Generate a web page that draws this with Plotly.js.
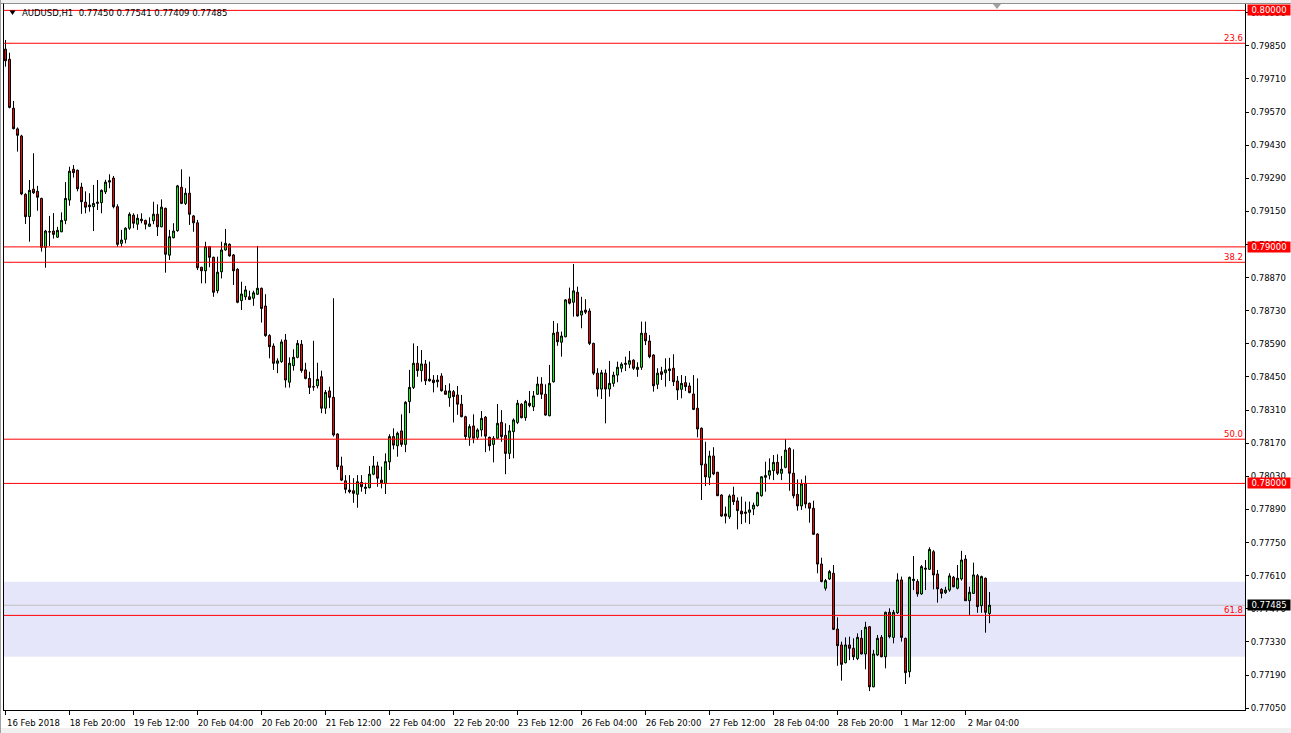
<!DOCTYPE html>
<html><head><meta charset="utf-8">
<script src="https://cdn.plot.ly/plotly-3.0.1.min.js"></script>
<style>html,body{margin:0;padding:0;background:#fff;overflow:hidden}#chart{width:1291px;height:733px}</style>
</head><body><div id="chart"></div>
<script>
// AUDUSD H1 candles (one per hour, oldest first)
const openP = [
0.79836,0.79793,0.79586,0.79499,0.79469,0.79222,0.79128,0.79244,0.79235,0.79205,
0.78998,0.79063,0.79067,0.79041,0.79064,0.79112,0.79198,0.79328,0.79324,0.79253,
0.79189,0.79177,0.79170,0.79184,0.79187,0.79233,0.79274,0.79291,0.79170,0.79015,
0.79032,0.79079,0.79134,0.79096,0.79117,0.79112,0.79087,0.79111,0.79138,0.79085,
0.79163,0.78965,0.79039,0.79069,0.79252,0.79184,0.79227,0.79131,0.79102,0.78914,
0.78899,0.79001,0.78956,0.78815,0.78895,0.78987,0.79011,0.78966,0.78905,0.78773,
0.78789,0.78789,0.78783,0.78800,0.78825,0.78750,0.78625,0.78581,0.78508,0.78515,
0.78606,0.78428,0.78498,0.78533,0.78588,0.78480,0.78444,0.78409,0.78413,0.78451,
0.78318,0.78391,0.78364,0.78209,0.78074,0.78011,0.77972,0.77969,0.77954,0.78004,
0.77979,0.77982,0.78039,0.78074,0.78014,0.78000,0.78091,0.78198,0.78159,0.78222,
0.78165,0.78346,0.78406,0.78508,0.78477,0.78505,0.78441,0.78437,0.78430,0.78454,
0.78391,0.78362,0.78388,0.78374,0.78335,0.78282,0.78195,0.78243,0.78195,0.78226,
0.78280,0.78195,0.78165,0.78191,0.78258,0.78203,0.78127,0.78219,0.78258,0.78335,
0.78278,0.78339,0.78324,0.78377,0.78420,0.78377,0.78286,0.78430,0.78639,0.78597,
0.78620,0.78780,0.78766,0.78808,0.78712,0.78733,0.78729,0.78592,0.78466,0.78399,
0.78466,0.78399,0.78423,0.78458,0.78487,0.78508,0.78504,0.78521,0.78482,0.78491,
0.78635,0.78602,0.78543,0.78419,0.78472,0.78468,0.78477,0.78487,0.78433,0.78398,
0.78426,0.78412,0.78378,0.78318,0.78233,0.78082,0.78026,0.78116,0.78047,0.77951,
0.77871,0.77859,0.77951,0.77926,0.77883,0.77879,0.77878,0.77892,0.77906,0.77948,
0.78026,0.78035,0.78054,0.78089,0.78043,0.78068,0.78148,0.78043,0.77954,0.77905,
0.78000,0.77916,0.77895,0.77786,0.77659,0.77557,0.77596,0.77620,0.77384,0.77317,
0.77242,0.77317,0.77303,0.77260,0.77345,0.77279,0.77394,0.77140,0.77275,0.77349,
0.77267,0.77455,0.77349,0.77453,0.77592,0.77345,0.77204,0.77589,0.77585,0.77533,
0.77637,0.77637,0.77711,0.77617,0.77552,0.77538,0.77549,0.77603,0.77557,0.77596,
0.77680,0.77504,0.77535,0.77610,0.77483,0.77599,0.77450];
const highP = [
0.79875,0.79821,0.79617,0.79505,0.79474,0.79227,0.79283,0.79396,0.79258,0.79208,
0.79072,0.79131,0.79143,0.79085,0.79146,0.79274,0.79339,0.79346,0.79327,0.79271,
0.79235,0.79227,0.79262,0.79283,0.79243,0.79284,0.79307,0.79300,0.79180,0.79072,
0.79083,0.79146,0.79142,0.79138,0.79142,0.79115,0.79125,0.79191,0.79180,0.79201,
0.79166,0.79072,0.79100,0.79262,0.79328,0.79248,0.79297,0.79135,0.79114,0.78916,
0.79022,0.79004,0.78959,0.78959,0.79022,0.79076,0.79015,0.78970,0.78910,0.78853,
0.78835,0.78815,0.78815,0.79004,0.78828,0.78800,0.78631,0.78592,0.78529,0.78609,
0.78632,0.78533,0.78567,0.78606,0.78606,0.78510,0.78472,0.78603,0.78510,0.78477,
0.78395,0.78409,0.78783,0.78212,0.78113,0.78035,0.78035,0.78022,0.78035,0.78035,
0.78003,0.78074,0.78116,0.78092,0.78071,0.78127,0.78208,0.78233,0.78219,0.78292,
0.78348,0.78480,0.78592,0.78581,0.78564,0.78522,0.78515,0.78458,0.78458,0.78466,
0.78416,0.78423,0.78395,0.78412,0.78374,0.78286,0.78250,0.78292,0.78233,0.78306,
0.78285,0.78198,0.78200,0.78336,0.78310,0.78254,0.78247,0.78275,0.78353,0.78339,
0.78353,0.78391,0.78391,0.78451,0.78449,0.78419,0.78501,0.78687,0.78677,0.78642,
0.78779,0.78828,0.78928,0.78832,0.78789,0.78779,0.78740,0.78595,0.78487,0.78480,
0.78482,0.78518,0.78472,0.78515,0.78512,0.78536,0.78560,0.78525,0.78512,0.78684,
0.78684,0.78627,0.78546,0.78487,0.78493,0.78529,0.78531,0.78546,0.78454,0.78458,
0.78454,0.78426,0.78458,0.78444,0.78237,0.78176,0.78138,0.78153,0.78049,0.77954,
0.77902,0.77954,0.77986,0.77941,0.77944,0.77923,0.77923,0.77919,0.77965,0.78030,
0.78092,0.78106,0.78120,0.78123,0.78116,0.78187,0.78153,0.78144,0.78017,0.78017,
0.78033,0.77919,0.77927,0.77789,0.77686,0.77596,0.77634,0.77655,0.77434,0.77331,
0.77349,0.77352,0.77345,0.77366,0.77380,0.77415,0.77397,0.77296,0.77359,0.77359,
0.77458,0.77472,0.77465,0.77620,0.77606,0.77348,0.77606,0.77693,0.77595,0.77655,
0.77676,0.77730,0.77718,0.77634,0.77557,0.77563,0.77620,0.77609,0.77655,0.77715,
0.77697,0.77563,0.77665,0.77617,0.77610,0.77602,0.77541];
const lowP = [
0.79762,0.79586,0.79497,0.79403,0.79219,0.79097,0.79022,0.79224,0.79153,0.78980,
0.78912,0.79004,0.79035,0.79039,0.79062,0.79096,0.79174,0.79293,0.79235,0.79140,
0.79142,0.79149,0.79067,0.79156,0.79142,0.79224,0.79248,0.79163,0.79001,0.79001,
0.79015,0.79072,0.79079,0.79072,0.79100,0.79074,0.79085,0.79096,0.79046,0.79083,
0.78891,0.78945,0.79036,0.79064,0.79181,0.79177,0.79093,0.79064,0.78902,0.78846,
0.78846,0.78914,0.78789,0.78804,0.78867,0.78984,0.78959,0.78839,0.78762,0.78733,
0.78776,0.78776,0.78751,0.78797,0.78680,0.78620,0.78529,0.78480,0.78466,0.78510,
0.78405,0.78405,0.78477,0.78529,0.78468,0.78440,0.78378,0.78392,0.78402,0.78297,
0.78294,0.78318,0.78198,0.78057,0.78010,0.77958,0.77958,0.77918,0.77897,0.77965,
0.77955,0.77979,0.78035,0.77986,0.77979,0.77955,0.78057,0.78144,0.78113,0.78155,
0.78132,0.78297,0.78399,0.78451,0.78430,0.78416,0.78430,0.78385,0.78406,0.78388,
0.78374,0.78324,0.78258,0.78290,0.78280,0.78184,0.78159,0.78170,0.78184,0.78198,
0.78132,0.78138,0.78089,0.78188,0.78176,0.78039,0.78103,0.78106,0.78251,0.78275,
0.78265,0.78322,0.78306,0.78374,0.78357,0.78286,0.78284,0.78426,0.78582,0.78536,
0.78618,0.78757,0.78705,0.78705,0.78656,0.78716,0.78585,0.78458,0.78367,0.78357,
0.78254,0.78367,0.78409,0.78428,0.78470,0.78475,0.78487,0.78480,0.78451,0.78480,
0.78585,0.78529,0.78388,0.78399,0.78437,0.78409,0.78433,0.78412,0.78353,0.78360,
0.78391,0.78381,0.78310,0.78195,0.77930,0.77989,0.77993,0.78035,0.77947,0.77859,
0.77831,0.77850,0.77909,0.77806,0.77828,0.77834,0.77828,0.77866,0.77902,0.77944,
0.77965,0.78017,0.78014,0.78035,0.78014,0.78064,0.77969,0.77937,0.77885,0.77888,
0.77895,0.77834,0.77782,0.77620,0.77582,0.77547,0.77592,0.77380,0.77229,0.77166,
0.77239,0.77253,0.77253,0.77253,0.77277,0.77214,0.77122,0.77138,0.77270,0.77265,
0.77218,0.77345,0.77324,0.77448,0.77331,0.77152,0.77180,0.77549,0.77521,0.77529,
0.77549,0.77634,0.77552,0.77496,0.77514,0.77533,0.77542,0.77561,0.77552,0.77589,
0.77504,0.77444,0.77533,0.77453,0.77453,0.77369,0.77409];
const closeP = [
0.79787,0.79590,0.79500,0.79472,0.79224,0.79128,0.79239,0.79229,0.79210,0.78998,
0.79067,0.79064,0.79053,0.79070,0.79112,0.79205,0.79320,0.79314,0.79246,0.79191,
0.79168,0.79170,0.79184,0.79189,0.79239,0.79274,0.79280,0.79170,0.79011,0.79029,
0.79079,0.79138,0.79100,0.79121,0.79111,0.79096,0.79097,0.79138,0.79085,0.79168,
0.78969,0.79043,0.79067,0.79258,0.79184,0.79227,0.79138,0.79102,0.78912,0.78899,
0.79001,0.78956,0.78808,0.78893,0.78987,0.79015,0.78962,0.78899,0.78766,0.78801,
0.78818,0.78778,0.78806,0.78825,0.78740,0.78625,0.78578,0.78508,0.78518,0.78598,
0.78437,0.78508,0.78533,0.78592,0.78477,0.78444,0.78406,0.78408,0.78440,0.78318,
0.78385,0.78364,0.78205,0.78071,0.78014,0.77975,0.77965,0.77958,0.78007,0.77986,
0.77984,0.78039,0.78074,0.78022,0.78003,0.78092,0.78198,0.78162,0.78212,0.78165,
0.78343,0.78406,0.78508,0.78477,0.78505,0.78434,0.78434,0.78426,0.78437,0.78392,
0.78377,0.78391,0.78367,0.78335,0.78282,0.78198,0.78240,0.78191,0.78226,0.78275,
0.78200,0.78159,0.78191,0.78254,0.78198,0.78127,0.78222,0.78268,0.78339,0.78278,
0.78346,0.78329,0.78370,0.78420,0.78377,0.78289,0.78423,0.78635,0.78599,0.78623,
0.78776,0.78762,0.78814,0.78708,0.78729,0.78724,0.78592,0.78466,0.78399,0.78468,
0.78399,0.78423,0.78458,0.78491,0.78504,0.78504,0.78519,0.78487,0.78491,0.78635,
0.78603,0.78536,0.78413,0.78466,0.78461,0.78480,0.78484,0.78430,0.78395,0.78423,
0.78409,0.78384,0.78313,0.78230,0.78078,0.78028,0.78116,0.78040,0.77948,0.77862,
0.77862,0.77947,0.77923,0.77885,0.77871,0.77874,0.77888,0.77908,0.77961,0.78028,
0.78033,0.78054,0.78089,0.78043,0.78060,0.78141,0.78043,0.77948,0.77905,0.77998,
0.77913,0.77895,0.77785,0.77659,0.77585,0.77589,0.77627,0.77383,0.77314,0.77235,
0.77317,0.77303,0.77267,0.77349,0.77279,0.77392,0.77140,0.77279,0.77345,0.77267,
0.77455,0.77352,0.77455,0.77592,0.77349,0.77200,0.77603,0.77595,0.77533,0.77648,
0.77641,0.77721,0.77613,0.77554,0.77535,0.77549,0.77609,0.77563,0.77599,0.77676,
0.77504,0.77540,0.77613,0.77479,0.77606,0.77455,0.77485];

// time-axis labels, one every 16 bars
const timeLabels = ["16 Feb 2018","18 Feb 20:00","19 Feb 12:00","20 Feb 04:00","20 Feb 20:00",
  "21 Feb 12:00","22 Feb 04:00","22 Feb 20:00","23 Feb 12:00","26 Feb 04:00","26 Feb 20:00",
  "27 Feb 12:00","28 Feb 04:00","28 Feb 20:00","1 Mar 12:00","2 Mar 04:00"];
const labelEvery = 16;
// price scale labels
const priceTicks = [0.77050,0.77190,0.77330,0.77470,0.77610,0.77750,0.77890,0.78030,0.78170,0.78310,
  0.78450,0.78590,0.78730,0.78870,0.79010,0.79150,0.79290,0.79430,0.79570,0.79710,0.79850,0.79990];
// horizontal objects
const roundLevels = [0.80000, 0.79000, 0.78000];
const fibNames = ["23.6","38.2","50.0","61.8"];
const fibLevels = [0.79861, 0.78935, 0.78187, 0.77442];
const zoneLevels = [0.77267, 0.77584];
const bidPrice = 0.77485;
const header = "AUDUSD,H1\u00a0\u00a00.77450 0.77541 0.77409 0.77485";

const FONT = "DejaVu Sans, Verdana, sans-serif";
const FS = 8.5;
const idx = closeP.map((_, i) => i);
const tickIdx = timeLabels.map((_, k) => k * labelEvery);

// helpers for page-pixel decorations (plot area: x 3..1245, y 4..710)
const pxX = px => (px - 3) / 1242;
const pxY = py => 1 - (py - 4) / 706;

const trace = {
  type: 'candlestick', x: idx, open: openP, high: highP, low: lowP, close: closeP,
  increasing: {line: {color: '#000000', width: 1}, fillcolor: '#00FF00'},
  decreasing: {line: {color: '#000000', width: 1}, fillcolor: '#FF0000'},
  whiskerwidth: 0, hoverinfo: 'skip', showlegend: false
};

const shapes = [];
shapes.push({type: 'rect', xref: 'paper', yref: 'y', x0: 0, x1: 1, y0: zoneLevels[0], y1: zoneLevels[1],
  fillcolor: 'rgb(230,230,250)', line: {width: 0}, layer: 'below'});
shapes.push({type: 'line', xref: 'paper', yref: 'y', x0: 0, x1: 1, y0: bidPrice, y1: bidPrice,
  line: {color: '#C0C0C0', width: 1}, layer: 'below'});
roundLevels.forEach(v => shapes.push({type: 'line', xref: 'paper', yref: 'y', x0: 0, x1: 1, y0: v, y1: v,
  line: {color: '#FF0000', width: 1}, layer: 'above'}));
fibLevels.forEach(v => shapes.push({type: 'line', xref: 'paper', yref: 'y', x0: 0, x1: 1, y0: v, y1: v,
  line: {color: '#FF0000', width: 1}, layer: 'above'}));
// frame decorations
shapes.push({type: 'rect', xref: 'paper', yref: 'paper', x0: pxX(0), x1: pxX(1291), y0: pxY(0), y1: pxY(3),
  fillcolor: '#F0F0F0', line: {width: 0}, layer: 'above'});
shapes.push({type: 'line', xref: 'paper', yref: 'paper', x0: pxX(0), x1: pxX(1291), y0: pxY(3.5), y1: pxY(3.5),
  line: {color: '#909090', width: 1}, layer: 'above'});
shapes.push({type: 'rect', xref: 'paper', yref: 'paper', x0: pxX(0), x1: pxX(1291), y0: pxY(728), y1: pxY(733),
  fillcolor: '#F0F0F0', line: {width: 0}, layer: 'above'});
shapes.push({type: 'line', xref: 'paper', yref: 'paper', x0: pxX(3.5), x1: pxX(3.5), y0: pxY(3.5), y1: pxY(710),
  line: {color: '#000000', width: 1}, layer: 'above'});
shapes.push({type: 'line', xref: 'paper', yref: 'paper', x0: pxX(0.5), x1: pxX(0.5), y0: pxY(0), y1: pxY(733),
  line: {color: '#A0A0A0', width: 1}, layer: 'above'});
shapes.push({type: 'path', xref: 'paper', yref: 'paper',
  path: `M ${pxX(993)},${pxY(4)} L ${pxX(1001)},${pxY(4)} L ${pxX(997)},${pxY(9)} Z`,
  fillcolor: '#A0A0A0', line: {width: 0}, layer: 'above'});
shapes.push({type: 'path', xref: 'paper', yref: 'paper',
  path: `M ${pxX(9.5)},${pxY(10.5)} L ${pxX(15.5)},${pxY(10.5)} L ${pxX(12.5)},${pxY(15)} Z`,
  fillcolor: '#000000', line: {width: 0}, layer: 'above'});

const annotations = [];
annotations.push({text: header, xref: 'paper', yref: 'paper', x: pxX(20), y: pxY(13.3),
  xanchor: 'left', yanchor: 'middle', showarrow: false, font: {family: FONT, size: FS, color: '#000'}});
fibLevels.forEach((v, k) => annotations.push({text: fibNames[k], xref: 'paper', yref: 'y', x: 1, y: v,
  xanchor: 'right', yanchor: 'bottom', xshift: -1, yshift: -1, showarrow: false, borderpad: 0,
  font: {family: FONT, size: FS, color: '#FF0000'}}));
roundLevels.forEach(v => annotations.push({text: v.toFixed(5), xref: 'paper', yref: 'y', x: 1, y: v,
  xanchor: 'left', yanchor: 'middle', xshift: 2, showarrow: false, bgcolor: '#FF0000', borderpad: 0,
  width: 42, height: 10, font: {family: FONT, size: FS, color: '#FFFFFF'}}));
annotations.push({text: bidPrice.toFixed(5), xref: 'paper', yref: 'y', x: 1, y: bidPrice,
  xanchor: 'left', yanchor: 'middle', xshift: 2, showarrow: false, bgcolor: '#000000', borderpad: 0,
  width: 42, height: 10, font: {family: FONT, size: FS, color: '#FFFFFF'}});

const layout = {
  width: 1291, height: 733,
  margin: {l: 3, r: 46, t: 4, b: 23, pad: 0},
  paper_bgcolor: '#FFFFFF', plot_bgcolor: '#FFFFFF',
  showlegend: false, dragmode: false, hovermode: false,
  boxgap: 0.5, boxgroupgap: 0,
  xaxis: {
    range: [-0.625, 309.875], tickmode: 'array', tickvals: tickIdx, ticktext: timeLabels,
    ticks: 'outside', ticklen: 4, tickwidth: 1, tickcolor: '#000',
    showline: true, linecolor: '#000', linewidth: 1, showgrid: false, zeroline: false,
    rangeslider: {visible: false}, ticklabelshift: 28, ticklabelstandoff: 1,
    tickfont: {family: FONT, size: FS, color: '#000'}, fixedrange: true
  },
  yaxis: {
    side: 'right', range: [0.77042, 0.80027], tickmode: 'array', tickvals: priceTicks,
    ticktext: priceTicks.map(v => v.toFixed(5)),
    ticks: 'outside', ticklen: 3, tickwidth: 1, tickcolor: '#000',
    showline: true, linecolor: '#000', linewidth: 1, showgrid: false, zeroline: false,
    tickfont: {family: FONT, size: FS, color: '#000'}, fixedrange: true
  },
  shapes: shapes, annotations: annotations
};

Plotly.newPlot('chart', [trace], layout, {displayModeBar: false, staticPlot: true});
</script>
</body></html>
